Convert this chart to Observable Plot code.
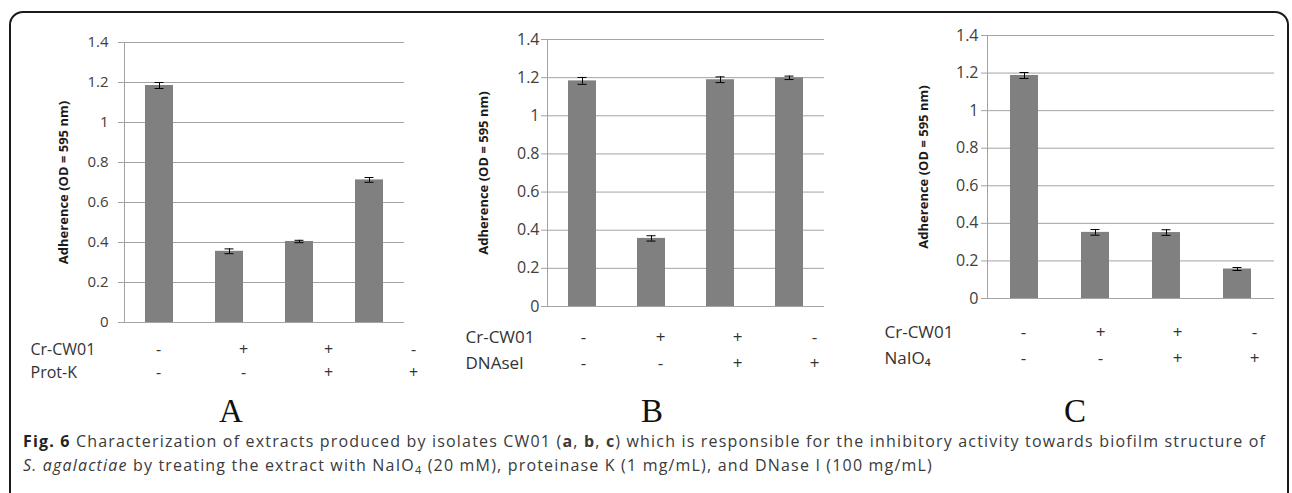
<!DOCTYPE html>
<html><head><meta charset="utf-8">
<script src="https://cdn.jsdelivr.net/npm/d3@7"></script>
<script src="https://cdn.jsdelivr.net/npm/@observablehq/plot@0.6"></script>
<style>
html,body{margin:0;padding:0;background:#fff;}
#fig{position:relative;width:1292px;height:493px;overflow:hidden;font-family:"Open Sans",sans-serif;background:#fff;}
#frame{position:absolute;left:9px;top:11px;width:1280px;height:540px;border:2px solid #1a1a1a;border-radius:14px;box-sizing:border-box;}
.part{position:absolute;}
.part svg{display:block;}
#overlay{position:absolute;left:0;top:0;}
</style></head>
<body><div id="fig"><div id="frame"></div></div>
<script>
// ---------- data ----------
const conditions = ["c1", "c2", "c3", "c4"];
const yTicks = [0, 0.2, 0.4, 0.6, 0.8, 1, 1.2, 1.4];
const yLabel = "Adherence (OD = 595 nm)";

const adherenceA = [1.185, 0.356, 0.405, 0.713];
const errorA = [0.015, 0.012, 0.006, 0.012];
const adherenceB = [1.183, 0.357, 1.189, 1.199];
const errorB = [0.018, 0.014, 0.015, 0.009];
const adherenceC = [1.187, 0.352, 0.351, 0.157];
const errorC = [0.016, 0.015, 0.015, 0.008];

const rowNamesA = ["Cr-CW01", "Prot-K"];
const rowNamesB = ["Cr-CW01", "DNAseI"];
const rowNamesC = ["Cr-CW01", "NaIO\u2084"];
const extractSigns = ["-", "+", "+", "-"];
const treatmentSigns = ["-", "-", "+", "+"];
const panelLetters = ["A", "B", "C"];

// ---------- layout ----------
const panels = [
  {values: adherenceA, errors: errorA, rows: rowNamesA,
   left: 0, width: 410, height: 330, mt: 42, ml: 124, mr: 6, mb: 8, tickFont: 15, tickPadding: 10, labelX: 63,
   table: {left: 0, top: 330, width: 430, height: 60, ml: 30, xr: [157, 414], yr: [19, 42], font: 16}},
  {values: adherenceB, errors: errorB, rows: rowNamesB,
   left: 430, width: 400, height: 314, mt: 39, ml: 117, mr: 6, mb: 8, tickFont: 16, tickPadding: 2, labelX: 53,
   table: {left: 430, top: 320, width: 420, height: 60, ml: 35, xr: [153, 384], yr: [17, 43], font: 17}},
  {values: adherenceC, errors: errorC, rows: rowNamesC,
   left: 860, width: 420, height: 306, mt: 35, ml: 127, mr: 6, mb: 8, tickFont: 16, tickPadding: 3, labelX: 63,
   table: {left: 860, top: 310, width: 432, height: 60, ml: 24, xr: [162, 395], yr: [22, 48], font: 17}}
];
const letterX = [231, 652, 1075];

const fig = document.getElementById("fig");
const gridColor = "#a3a3a3";

function place(el, left, top) {
  const d = document.createElement("div");
  d.className = "part";
  d.style.left = left + "px";
  d.style.top = top + "px";
  d.appendChild(el);
  fig.appendChild(d);
}

panels.forEach(p => {
  const data = p.values.map((v, i) => ({c: conditions[i], v, e: p.errors[i]}));
  const bars = Plot.plot({
    width: p.width, height: p.height,
    marginTop: p.mt, marginLeft: p.ml, marginRight: p.mr, marginBottom: p.mb,
    style: {fontFamily: '"Open Sans", sans-serif', fontSize: p.tickFont + "px", color: "#404040", background: "transparent", overflow: "visible"},
    x: {type: "band", domain: conditions, paddingInner: 0.6, paddingOuter: 0.3, axis: null},
    y: {domain: [0, 1.4]},
    marks: [
      Plot.gridY(yTicks, {stroke: gridColor, strokeOpacity: 1}),
      Plot.axisY(yTicks, {tickSize: 6, tickPadding: p.tickPadding, stroke: gridColor, fill: "#404040", label: null, tickFormat: d => String(d)}),
      Plot.frame({anchor: "left", stroke: gridColor}),
      Plot.barY(data, {x: "c", y: "v", fill: "#808080"}),
      Plot.ruleX(data, {x: "c", y1: d => d.v - d.e, y2: d => d.v + d.e, stroke: "#000"}),
      Plot.tickY(data, {x: "c", y: d => d.v + d.e, stroke: "#000", insetLeft: 9.5, insetRight: 9.5}),
      Plot.tickY(data, {x: "c", y: d => d.v - d.e, stroke: "#000", insetLeft: 9.5, insetRight: 9.5}),
      Plot.text([yLabel], {frameAnchor: "left", rotate: -90, dx: p.labelX - p.ml, fontWeight: "bold", fontSize: 13, fill: "#1a1a1a", textAnchor: "middle", lineAnchor: "middle"})
    ]
  });
  place(bars, p.left, 0);

  const t = p.table;
  const signs = [];
  conditions.forEach((c, i) => {
    signs.push({c, row: p.rows[0], s: extractSigns[i]});
    signs.push({c, row: p.rows[1], s: treatmentSigns[i]});
  });
  const table = Plot.plot({
    width: t.width, height: t.height,
    marginLeft: t.ml, marginRight: 0, marginTop: 0, marginBottom: 0,
    style: {fontFamily: '"Open Sans", sans-serif', fontSize: t.font + "px", color: "#333", background: "transparent", overflow: "visible"},
    x: {type: "point", domain: conditions, range: t.xr, padding: 0, axis: null},
    y: {type: "point", domain: p.rows, range: t.yr, padding: 0, axis: null},
    marks: [
      Plot.text(p.rows, {y: d => d, text: d => d, frameAnchor: "left", textAnchor: "start", fill: "#333"}),
      Plot.text(signs, {x: "c", y: "row", text: "s", fill: "#333"})
    ]
  });
  place(table, t.left, t.top);
});

// ---------- panel letters + caption ----------
const svg = d3.select(fig).append("svg").attr("id", "overlay")
  .attr("width", 1292).attr("height", 493);
svg.selectAll("text.letter").data(panelLetters).join("text")
  .attr("class", "letter")
  .attr("x", (d, i) => letterX[i]).attr("y", 422)
  .attr("text-anchor", "middle")
  .attr("font-family", '"Liberation Serif", "Times New Roman", serif')
  .attr("font-size", 33).attr("fill", "#111")
  .text(d => d);

const capStyle = {family: '"Open Sans", sans-serif', size: 16, fill: "#3a3a3a"};
const line1 = svg.append("text").attr("x", 23).attr("y", 447)
  .attr("font-family", capStyle.family).attr("font-size", capStyle.size).attr("fill", capStyle.fill);
line1.append("tspan").attr("font-weight", "bold").attr("fill", "#222").text("Fig. 6");
line1.append("tspan").text(" Characterization of extracts produced by isolates CW01 (");
line1.append("tspan").attr("font-weight", "bold").text("a");
line1.append("tspan").text(", ");
line1.append("tspan").attr("font-weight", "bold").text("b");
line1.append("tspan").text(", ");
line1.append("tspan").attr("font-weight", "bold").text("c");
line1.append("tspan").text(") which is responsible for the inhibitory activity towards biofilm structure of");

const line2 = svg.append("text").attr("x", 23).attr("y", 471)
  .attr("font-family", capStyle.family).attr("font-size", capStyle.size).attr("fill", capStyle.fill);
line2.append("tspan").attr("font-style", "italic").text("S. agalactiae");
line2.append("tspan").text(" by treating the extract with NaIO");
line2.append("tspan").attr("font-size", 11).attr("dy", 3).text("4");
line2.append("tspan").attr("dy", -3).text(" (20 mM), proteinase K (1 mg/mL), and DNase I (100 mg/mL)");

// fit line 1 to the reference width and reuse the same spacing on line 2
const target = 1242;
const w = line1.node().getComputedTextLength();
const n = line1.text().length;
const ls = (target - w) / (n - 1);
line1.attr("letter-spacing", ls);
line2.attr("letter-spacing", ls);
</script>
</body></html>
